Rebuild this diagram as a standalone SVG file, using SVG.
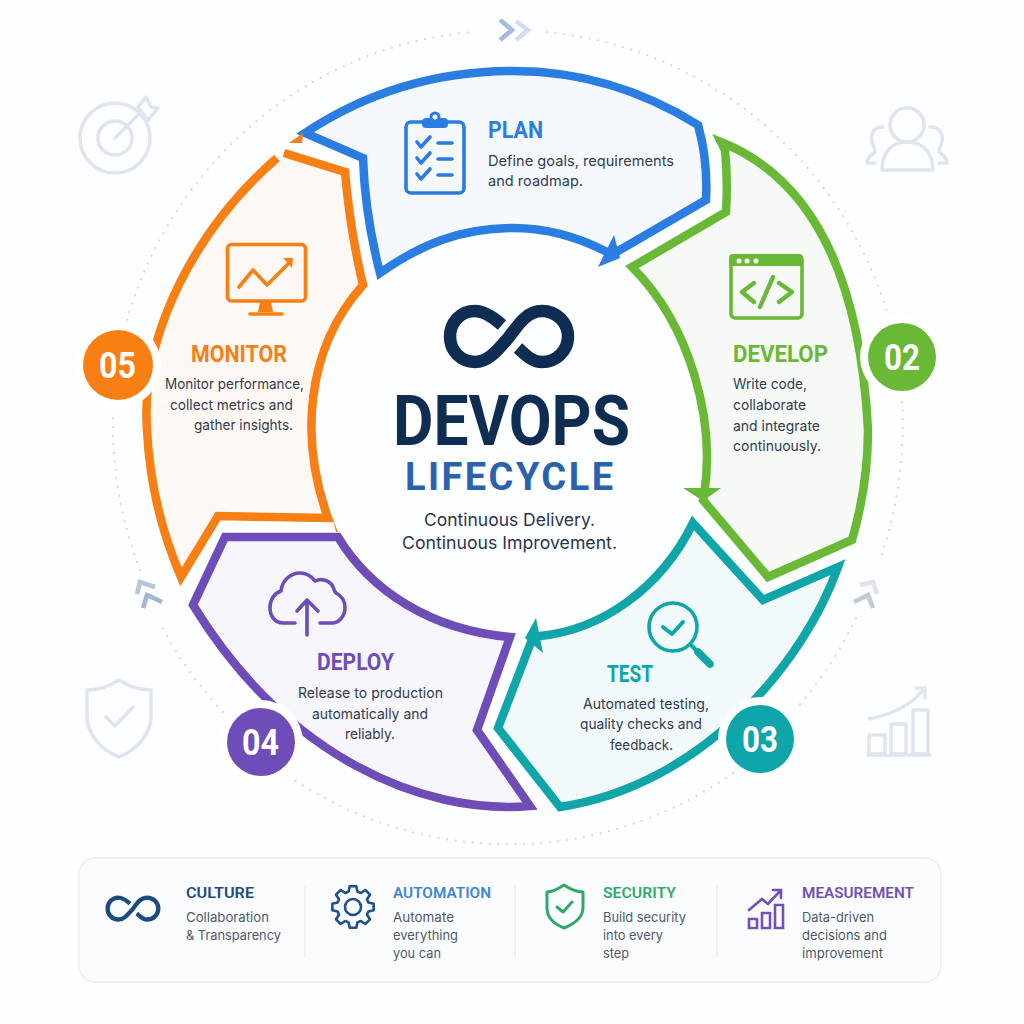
<svg xmlns="http://www.w3.org/2000/svg" width="1024" height="1024" viewBox="0 0 1024 1024">
<style>
.shape{stroke-width:8.5;stroke-linejoin:miter;stroke-miterlimit:8}
.ic{fill:none;stroke-width:3.6;stroke-linecap:round;stroke-linejoin:round}
.bg{fill:none;stroke:#dfe5ee;stroke-width:3.5;stroke-linecap:round;stroke-linejoin:round}
.h{font-family:Roboto,"Liberation Sans",sans-serif;font-weight:700;font-size:24.5px}
.b{font-family:Inter,"Liberation Sans",sans-serif;font-size:14.5px;fill:#333d4e}
.n{font-family:Roboto,"Liberation Sans",sans-serif;font-weight:700;font-size:37px;fill:#fff}
.ph{font-family:Roboto,"Liberation Sans",sans-serif;font-weight:600;font-size:15.5px}
.pb{font-family:Inter,"Liberation Sans",sans-serif;font-size:13px;fill:#4f5a69}
.dots{fill:none;stroke:#d3d9e2;stroke-width:2.200;stroke-linecap:round;stroke-dasharray:0.1 8.5}
.chev{fill:none;stroke-width:4.6}
.div{stroke:#e9edf3;stroke-width:1.6}
</style>
<defs>
<path id="inf" d="M502 325C492 316 484 311 475 311C461 311 450 322 450 336.5C450 351 461 362 475 362C488 362 496 352 509 337C520 322 528 311 542 311C556 311 568 322 568 336.5C568 351 556 362 542 362C532 362 526 355 518 348" fill="none"/>
</defs>
<rect width="1024" height="1024" fill="#fdfeff"/>

<g id="connectors">
<path class="dots" d="M547 32A395 403 0 0 1 887 312"/>
<path class="dots" d="M902 402A395 403 0 0 1 880 560"/>
<path class="dots" d="M856 618A395 403 0 0 1 795 710"/>
<path class="dots" d="M733 773A395 403 0 0 1 290 777"/>
<path class="dots" d="M223 712A395 403 0 0 1 160 623"/>
<path class="dots" d="M140 570A395 403 0 0 1 113 412"/>
<path class="dots" d="M127 320A395 403 0 0 1 473 32"/>
<path class="chev" stroke="#a8bbdd" d="M500 20L512 30L500 40"/>
<path class="chev" stroke="#d4ddef" d="M516 21L528 30L516 40"/>
<path class="chev" stroke="#b6c6df" d="M155 587L140 582L137 594"/>
<path class="chev" stroke="#a2b5d4" d="M162 602L147 595L143 608"/>
<path class="chev" stroke="#dfe4ec" d="M860 585L873 582L877 594"/>
<path class="chev" stroke="#c2cada" d="M854 602L868 595L873 608"/>
</g>

<g id="bg-icons">
<circle class="bg" cx="115" cy="138" r="35"/><circle class="bg" cx="115" cy="138" r="17"/>
<path class="bg" d="M115 138L140 113M138 107L146 97L151 107L158 108L148 120L138 107Z"/>
<circle class="bg" cx="907" cy="125" r="17"/>
<path class="bg" d="M882 170H933C933 152 922 142 907 142C892 142 882 152 882 170ZM883 127C874 127 870 134 872 141C873 147 876 150 875 152C871 155 867 158 867 163H875M930 127C939 127 944 134 942 141C941 147 938 150 939 152C943 155 947 158 947 163H939"/>
<path class="bg" d="M119 680C110 686 99 690 87 690V716C87 735 102 750 119 757C136 750 151 735 151 716V690C139 690 128 686 119 680ZM106 717L115 726L133 707"/>
<path class="bg" d="M869 735H885V754H869ZM891 724H906V754H891ZM913 710H928V754H913ZM868 755H930M869 719Q905 712 923 690M916 688H925V698"/>
</g>

<g id="node-plan">
<path class="shape" fill="#f5f9fe" stroke="#2a7de1" d="M305 133C370 90 440 71 513 71C590 71 650 95 698 125Q708 160 706 200L613 254L607 252C580 238 550 228 513 228C460 228 420 245 380 273Q365 215 363 158Z"/>
<path fill="#2a7de1" d="M598 267L614 235L620 258Z"/>
<path fill="#f77f14" d="M289 143L303 133L302 143Z"/>
<g stroke="#2a7de1" class="ic">
<rect x="406" y="122" width="58" height="71" rx="5"/>
<path d="M417 142L421 147L430 137M417 158L421 163L430 153M417 174L421 179L430 169M438 143H452M438 159H452M438 175H452"/>
</g>
<rect x="422" y="118" width="26" height="10" rx="4" fill="#2a7de1"/>
<circle cx="435" cy="117" r="4" fill="#fff" stroke="#2a7de1" stroke-width="3"/>
<text class="h" fill="#2a7de1" x="488" y="138" textLength="55" lengthAdjust="spacingAndGlyphs">PLAN</text>
<text class="b" x="488" y="166" textLength="186" lengthAdjust="spacingAndGlyphs">Define goals, requirements</text>
<text class="b" x="488" y="186" textLength="95" lengthAdjust="spacingAndGlyphs">and roadmap.</text>
</g>

<g id="node-develop">
<path class="shape" fill="#f6f9f6" stroke="#69b937" d="M721 142Q856 196 868 430Q868 485 852 540L768 577L703 500L704 495C716 420 690 325 632 267L726 212Q728 180 725 150Z"/>
<path fill="#69b937" d="M683 488H721L703 501Z"/>
<g stroke="#69b937" class="ic">
<rect x="731" y="256" width="71" height="62" rx="4"/>
<path stroke-width="4.4" d="M754 283L742 292L754 302M773 277L760 307M779 283L792 292L779 302"/>
</g>
<path fill="#69b937" d="M733 254H799A4 4 0 0 1 803 258V266H729V258A4 4 0 0 1 733 254Z"/>
<circle cx="739" cy="261" r="2.5" fill="#fff"/><circle cx="747" cy="261" r="2.5" fill="#fff"/><circle cx="756" cy="261" r="2.5" fill="#fff"/>
<text class="h" fill="#69b937" x="733" y="362" textLength="95" lengthAdjust="spacingAndGlyphs">DEVELOP</text>
<text class="b" x="733" y="389" textLength="74" lengthAdjust="spacingAndGlyphs">Write code,</text>
<text class="b" x="733" y="410" textLength="73" lengthAdjust="spacingAndGlyphs">collaborate</text>
<text class="b" x="733" y="431" textLength="87" lengthAdjust="spacingAndGlyphs">and integrate</text>
<text class="b" x="733" y="451" textLength="88" lengthAdjust="spacingAndGlyphs">continuously.</text>
</g>

<g id="node-test">
<path class="shape" fill="#f2f9fb" stroke="#10a5a8" d="M693 523L763 600L838 567C805 660 705 785 560 807L498 728L533 637L540 636C600 630 660 590 693 523Z"/>
<path fill="#10a5a8" d="M536 618L543 653L525 638Z"/>
<g stroke="#10a5a8" class="ic">
<circle cx="673" cy="627" r="24"/>
<path stroke-width="4" d="M663 627L672 634L683 622M692 646L698 652"/>
<path stroke-width="7.5" d="M698 652L710 664"/>
</g>
<text class="h" fill="#10a5a8" x="607" y="682" textLength="46" lengthAdjust="spacingAndGlyphs">TEST</text>
<text class="b" x="583" y="709" textLength="126" lengthAdjust="spacingAndGlyphs">Automated testing,</text>
<text class="b" x="580" y="729" textLength="122" lengthAdjust="spacingAndGlyphs">quality checks and</text>
<text class="b" x="610" y="750" textLength="63" lengthAdjust="spacingAndGlyphs">feedback.</text>
</g>

<g id="node-deploy">
<path class="shape" fill="#f6f6fc" stroke="#6e4db8" d="M225 537L338 537C370 590 430 630 510 637L477 730L530 806C420 815 285 755 193 605Z"/>
<path fill="#f77f14" d="M333 520L338 532H336Z"/>
<g stroke="#6e4db8" class="ic">
<path d="M295 623H283C275 623 270 616 270 608C270 599 275 593 281 591C282 581 290 573 300 573C307 573 312 577 315 581C321 578 330 580 333 587C334 590 335 592 336 593C342 596 345 601 345 608C345 616 339 623 332 623H320M307 635V600M297 611L307 600L318 611"/>
</g>
<text class="h" fill="#6e4db8" x="317" y="670" textLength="77" lengthAdjust="spacingAndGlyphs">DEPLOY</text>
<text class="b" x="298" y="698" textLength="145" lengthAdjust="spacingAndGlyphs">Release to production</text>
<text class="b" x="312" y="719" textLength="116" lengthAdjust="spacingAndGlyphs">automatically and</text>
<text class="b" x="345" y="739" textLength="50" lengthAdjust="spacingAndGlyphs">reliably.</text>
</g>

<g id="node-monitor">
<path class="shape" fill="#fef8f5" stroke="#f77f14" d="M277 158C200 225 140 330 147 430C150 490 165 540 181 577L218 516L328 518C300 440 305 350 363 285Q350 230 345 172L284 153"/>
<g stroke="#f77f14" class="ic">
<rect x="227.500" y="244.500" width="78" height="56.500" rx="4"/>
<path d="M239 287L253 270L267 285L290 262M250 314H282"/>
</g>
<path fill="#f77f14" d="M283 258H293L292 268ZM260 302H271L273 312H258Z"/>
<text class="h" fill="#f77f14" x="191" y="362" textLength="96" lengthAdjust="spacingAndGlyphs">MONITOR</text>
<text class="b" x="165" y="389" textLength="139" lengthAdjust="spacingAndGlyphs">Monitor performance,</text>
<text class="b" x="170" y="410" textLength="123" lengthAdjust="spacingAndGlyphs">collect metrics and</text>
<text class="b" x="194" y="430" textLength="99" lengthAdjust="spacingAndGlyphs">gather insights.</text>
</g>

<g id="badges">
<circle cx="902" cy="357" r="42" fill="#fff"/><circle cx="902" cy="357" r="34" fill="#69b937"/><text class="n" x="884" y="370" textLength="36" lengthAdjust="spacingAndGlyphs">02</text>
<circle cx="760" cy="739" r="42" fill="#fff"/><circle cx="760" cy="739" r="34" fill="#10a5a8"/><text class="n" x="742" y="752" textLength="36" lengthAdjust="spacingAndGlyphs">03</text>
<circle cx="261" cy="742" r="42" fill="#fff"/><circle cx="261" cy="742" r="34" fill="#6e4db8"/><text class="n" x="242" y="755" textLength="37" lengthAdjust="spacingAndGlyphs">04</text>
<circle cx="118" cy="365" r="43" fill="#fff"/><circle cx="118" cy="365" r="35" fill="#f77f14"/><text class="n" x="99" y="378" textLength="37" lengthAdjust="spacingAndGlyphs">05</text>
</g>

<g id="node-center">
<use href="#inf" stroke="#0f2d52" stroke-width="12.500"/>
<text x="393" y="445" font-family="Roboto,'Liberation Sans',sans-serif" font-weight="700" font-size="71" fill="#0f2d52" textLength="237" lengthAdjust="spacingAndGlyphs">DEVOPS</text>
<text x="405" y="490" font-family="Roboto,'Liberation Sans',sans-serif" font-weight="700" font-size="38" fill="#2b62ad" textLength="208" lengthAdjust="spacing">LIFECYCLE</text>
<text x="424" y="526" font-family="Inter,'Liberation Sans',sans-serif" font-size="17.500" fill="#2a3548" textLength="171" lengthAdjust="spacingAndGlyphs">Continuous Delivery.</text>
<text x="402" y="549" font-family="Inter,'Liberation Sans',sans-serif" font-size="17.500" fill="#2a3548" textLength="215" lengthAdjust="spacingAndGlyphs">Continuous Improvement.</text>
</g>

<g id="panel">
<rect x="79" y="858" width="862" height="124" rx="16" fill="#fbfcfe" stroke="#edf1f7" stroke-width="2"/>
<path class="div" d="M305 885V957M515 885V957M717 885V957"/>
<g id="item-culture">
<use href="#inf" stroke="#1d4a80" stroke-width="10" transform="translate(105 895) scale(.43) translate(-444 -305)"/>
<text class="ph" fill="#1e4a80" x="186" y="898" textLength="68" lengthAdjust="spacingAndGlyphs">CULTURE</text>
<text class="pb" x="186" y="922" textLength="83" lengthAdjust="spacingAndGlyphs">Collaboration</text>
<text class="pb" x="186" y="940" textLength="95" lengthAdjust="spacingAndGlyphs">&amp; Transparency</text>
</g>
<g id="item-automation">
<g transform="translate(353 907)" fill="none" stroke="#1f4f8c" stroke-width="2.600" stroke-linejoin="round">
<polygon points="15.400,-4.400 20.700,-3.300 20.700,3.300 15.400,4.400 14,7.800 17,12.300 12.300,17 7.800,14 4.400,15.400 3.300,20.700 -3.300,20.700 -4.400,15.400 -7.800,14 -12.300,17 -17,12.300 -14,7.800 -15.400,4.400 -20.700,3.300 -20.700,-3.300 -15.400,-4.400 -14,-7.800 -17,-12.300 -12.300,-17 -7.800,-14 -4.400,-15.400 -3.300,-20.700 3.300,-20.700 4.400,-15.400 7.800,-14 12.300,-17 17,-12.300 14,-7.800"/>
<circle r="8"/>
</g>
<text class="ph" fill="#3f86d0" x="393" y="898" textLength="98" lengthAdjust="spacingAndGlyphs">AUTOMATION</text>
<text class="pb" x="393" y="922" textLength="61" lengthAdjust="spacingAndGlyphs">Automate</text>
<text class="pb" x="393" y="940" textLength="65" lengthAdjust="spacingAndGlyphs">everything</text>
<text class="pb" x="393" y="958" textLength="48" lengthAdjust="spacingAndGlyphs">you can</text>
</g>
<g id="item-security">
<path fill="none" stroke="#2fa86a" stroke-width="3" stroke-linecap="round" stroke-linejoin="round" d="M564 885C558 889 553 892 547 892V908C547 917 554 924 564 928C574 924 583 917 583 908V892C576 892 570 889 564 885ZM557 907L563 912L572 902"/>
<text class="ph" fill="#2eaa6d" x="603" y="898" textLength="73" lengthAdjust="spacingAndGlyphs">SECURITY</text>
<text class="pb" x="603" y="922" textLength="83" lengthAdjust="spacingAndGlyphs">Build security</text>
<text class="pb" x="603" y="940" textLength="60" lengthAdjust="spacingAndGlyphs">into every</text>
<text class="pb" x="603" y="958" textLength="26" lengthAdjust="spacingAndGlyphs">step</text>
</g>
<g id="item-measurement">
<path fill="none" stroke="#7350b8" stroke-width="2.600" stroke-linecap="round" d="M749 919H757V928H749ZM762 913H770V928H762ZM775 905H783V928H775ZM749 910L762 899L768 904L781 890M773 890H781V898"/>
<text class="ph" fill="#6f51b5" x="802" y="898" textLength="112" lengthAdjust="spacingAndGlyphs">MEASUREMENT</text>
<text class="pb" x="802" y="922" textLength="72" lengthAdjust="spacingAndGlyphs">Data-driven</text>
<text class="pb" x="802" y="940" textLength="85" lengthAdjust="spacingAndGlyphs">decisions and</text>
<text class="pb" x="802" y="958" textLength="81" lengthAdjust="spacingAndGlyphs">improvement</text>
</g>
</g>
</svg>
